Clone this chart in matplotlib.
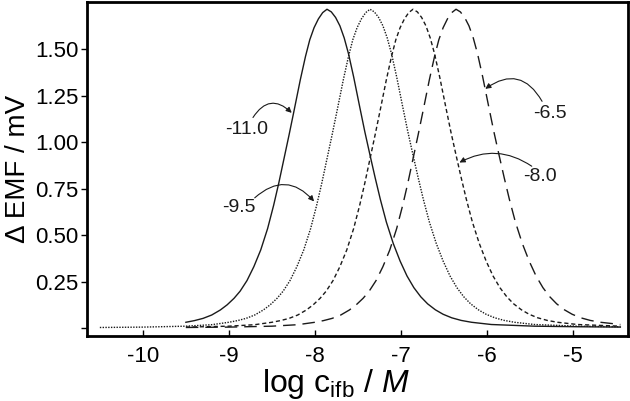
import matplotlib
matplotlib.use('Agg')
import matplotlib.pyplot as plt

plt.rcParams['font.family'] = ['Liberation Sans', 'DejaVu Sans']
plt.rcParams['mathtext.fontset'] = 'custom'
plt.rcParams['mathtext.rm'] = 'Liberation Sans'
plt.rcParams['mathtext.it'] = 'Liberation Sans:italic'

# all four curves have the same shape in the picture, only shifted along log c.
# shape: offset from its peak, delta EMF in mV
profile_dx = [-3.14, -2.64, -2.14, -1.84, -1.64, -1.54, -1.44, -1.34, -1.24, -1.16, -1.08, -1.01, -0.93,
              -0.85, -0.77, -0.69, -0.62, -0.56, -0.50, -0.44, -0.38, -0.31, -0.25, -0.20, -0.15, -0.10,
              -0.05, 0.00, 0.05, 0.10, 0.15, 0.20, 0.25, 0.31, 0.38, 0.44, 0.50, 0.56, 0.62, 0.69, 0.77,
              0.85, 0.93, 1.01, 1.09, 1.17, 1.26, 1.35, 1.45, 1.56, 1.68, 1.91, 2.41, 2.91, 3.41]
profile_y = [0.003, 0.005, 0.010, 0.018, 0.031, 0.040, 0.052, 0.070, 0.097, 0.125, 0.160, 0.198, 0.255,
             0.330, 0.420, 0.535, 0.660, 0.780, 0.910, 1.040, 1.175, 1.335, 1.460, 1.550, 1.615, 1.662,
             1.696, 1.714, 1.700, 1.670, 1.625, 1.560, 1.475, 1.350, 1.190, 1.055, 0.930, 0.808, 0.692,
             0.570, 0.455, 0.360, 0.280, 0.217, 0.168, 0.130, 0.098, 0.074, 0.055, 0.041, 0.031, 0.019,
             0.010, 0.007, 0.005]

# one entry per curve: log c at the peak, where the drawn line starts and ends
peak_logc = [-7.86, -7.36, -6.86, -6.36]
start_logc = [-9.50, -10.50, -9.50, -9.50]
end_logc = [-4.45, -4.45, -4.45, -4.45]
line_styles = ['-', (0, (1, 1)), (0, (3, 2)), (0, (9, 5))]

x_ticks = [-10, -9, -8, -7, -6, -5]
y_ticks = [0, 0.25, 0.50, 0.75, 1.00, 1.25, 1.50]
y_ticklabels = ['', '0.25', '0.50', '0.75', '1.00', '1.25', '1.50']

labels = ['-11.0', '-9.5', '-8.0', '-6.5']
label_pos = [(-8.79, 1.067), (-8.88, 0.646), (-5.39, 0.816), (-5.27, 1.155)]
arrow_tail = [(-8.72, 1.132), (-8.70, 0.700), (-5.48, 0.870), (-5.36, 1.219)]
arrow_head = [(-8.27, 1.157), (-8.01, 0.681), (-6.32, 0.890), (-6.02, 1.286)]
arrow_rad = [-0.6, -0.5, 0.3, 0.55]

fig = plt.figure(figsize=(6.3, 4.01), dpi=100)
ax = fig.add_axes([0.138, 0.162, 0.859, 0.833])

c = '#1a1a1a'
for pk, x0, x1, ls in zip(peak_logc, start_logc, end_logc, line_styles):
    xs, ys = [], []
    for dx, yv in zip(profile_dx, profile_y):
        xv = round(pk + dx, 3)
        if x0 - 1e-6 <= xv <= x1 + 1e-6:
            xs.append(xv)
            ys.append(yv)
    ax.plot(xs, ys, color=c, lw=1.0, ls=ls)

for lab, p, t, h, r in zip(labels, label_pos, arrow_tail, arrow_head, arrow_rad):
    ax.text(p[0], p[1], lab, fontsize=14, ha='center', va='center', color=c)
    ax.annotate('', xy=h, xytext=t,
                arrowprops=dict(arrowstyle='-|>', color=c, lw=0.8, mutation_scale=8,
                                shrinkA=0, shrinkB=0, connectionstyle='arc3,rad=%s' % r))

ax.set_xlim(-10.65, -4.36)
ax.set_ylim(-0.043, 1.753)
ax.set_xticks(x_ticks)
ax.set_xticklabels([str(v) for v in x_ticks])
ax.set_yticks(y_ticks)
ax.set_yticklabels(y_ticklabels)
ax.tick_params(axis='x', direction='in', length=4, width=1, labelsize=16, pad=7)
ax.tick_params(axis='y', direction='out', length=4, width=1, labelsize=16, pad=2)
for s in ax.spines.values():
    s.set_linewidth(2.0)

ax.set_xlabel(r'log c$_{\mathrm{ifb}}$ / $\mathit{M}$', fontsize=23)
ax.xaxis.set_label_coords(0.46, -0.168, transform=ax.transAxes)
ax.xaxis.label.set_va('baseline')
ax.set_ylabel('\u0394 EMF / mV', fontsize=20, labelpad=3)

fig.savefig('out.png', dpi=100)
